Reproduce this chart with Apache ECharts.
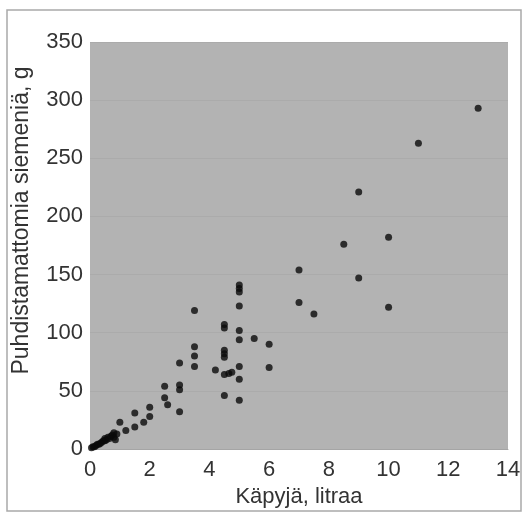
<!DOCTYPE html>
<html>
<head>
<meta charset="utf-8">
<script src="https://cdn.jsdelivr.net/npm/echarts@6/dist/echarts.min.js"></script>
<style>
  html, body { margin: 0; padding: 0; background: #fff; }
  #box { width: 525px; height: 514px; }
</style>
</head>
<body>
<div id="box"></div>
<script>
// käpyjä (litraa) ja puhdistamattomia siemeniä (g), luettu kuvasta
let litraa = [
  0.05, 0.1, 0.15, 0.2, 0.25, 0.3, 0.35, 0.4, 0.45, 0.5, 0.5, 0.55, 0.6, 0.65, 0.7, 0.75, 0.8, 0.8, 0.9, 0.85,
  1.0, 1.2, 1.5, 1.5, 1.8, 2, 2,
  2.5, 2.5, 2.6, 3, 3, 3, 3,
  3.5, 3.5, 3.5, 3.5,
  4.2, 4.5, 4.5, 4.5, 4.5, 4.5, 4.5, 4.65, 4.75, 4.5,
  5, 5, 5, 5, 5, 5, 5, 5, 5,
  5.5, 6, 6,
  7, 7, 7.5, 8.5, 9, 9, 10, 10, 11, 13
];
let siemenia = [
  1, 2, 2, 3, 4, 4, 5, 6, 7, 7, 9, 8, 10, 9, 11, 12, 10, 14, 13, 8,
  23, 16, 31, 19, 23, 36, 28,
  54, 44, 38, 74, 55, 51, 32,
  119, 88, 80, 71,
  68, 107, 104, 85, 82, 79, 64, 65, 66, 46,
  141, 138, 135, 123, 102, 94, 71, 60, 42,
  95, 90, 70,
  154, 126, 116, 176, 221, 147, 182, 122, 263, 293
];
let xTicks = { min: 0, max: 14, interval: 2 };
let yTicks = { min: 0, max: 350, interval: 50 };

let chart = echarts.init(document.getElementById("box"), null, { renderer: "canvas" });
let font = "Liberation Sans, Arial, sans-serif";
let txt = "#333333";

let option = {
  animation: false,
  backgroundColor: "#ffffff",
  graphic: [{
    type: "rect",
    shape: { x: 7, y: 10, width: 514, height: 501 },
    style: { fill: "none", stroke: "#a9a9a9", lineWidth: 1.5 },
    silent: true
  }],
  grid: {
    left: 90, right: 17, top: 42, bottom: 65,
    outerBoundsMode: "none",
    containLabel: false,
    show: true, backgroundColor: "#b3b3b3", borderWidth: 0
  },
  xAxis: {
    type: "value",
    min: xTicks.min, max: xTicks.max, interval: xTicks.interval,
    name: "Käpyjä, litraa",
    nameLocation: "middle",
    nameGap: 36,
    nameTextStyle: { fontFamily: font, fontSize: 22, color: txt },
    axisLine: { show: true, lineStyle: { color: "#a5a5a5", width: 1 } },
    axisTick: { show: false },
    splitLine: { show: false },
    axisLabel: { fontFamily: font, fontSize: 22, color: txt, margin: 10 }
  },
  yAxis: {
    type: "value",
    min: yTicks.min, max: yTicks.max, interval: yTicks.interval,
    name: "Puhdistamattomia siemeniä, g",
    nameLocation: "middle",
    nameGap: 57,
    nameTextStyle: { fontFamily: font, fontSize: 23, color: txt, padding: [0, 0, 0, 50] },
    axisLine: { show: false },
    axisTick: { show: false },
    splitLine: { show: true, lineStyle: { color: "#ababab", width: 1 } },
    axisLabel: { fontFamily: font, fontSize: 22, color: txt, margin: 7 }
  },
  series: [{
    type: "scatter",
    symbol: "circle",
    symbolSize: 7,
    itemStyle: { color: "#0a0a0a" },
    data: litraa.map((x, i) => [x, siemenia[i]])
  }]
};
chart.setOption(option);
</script>
</body>
</html>
